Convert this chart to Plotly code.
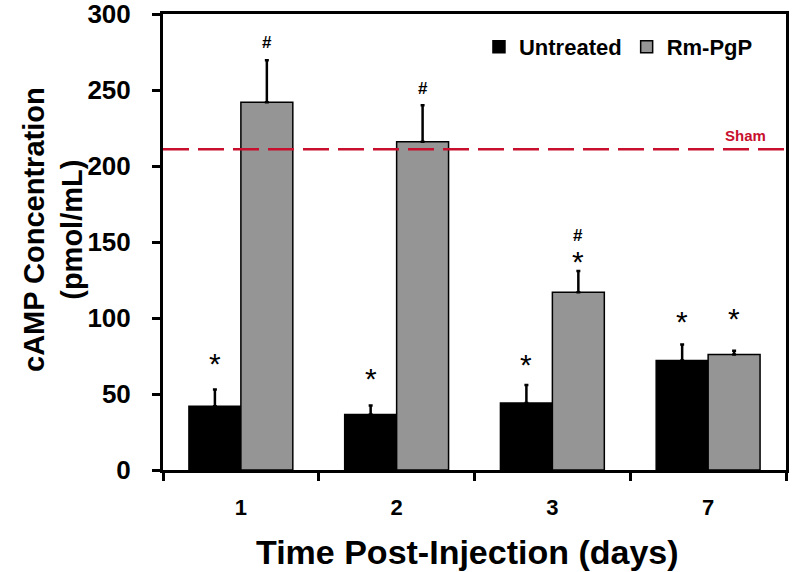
import plotly.graph_objects as go

days = ["1", "2", "3", "7"]
untreated = [42, 36.5, 44, 72]
untreated_err = [11, 6, 12, 10.5]
rmpgp = [242, 216, 117, 76]
rmpgp_err = [27.5, 24, 14, 2.5]
sham = 211
# significance marks: (category index, text, y value)
untreated_marks = [(0, "*", 75), (1, "*", 65), (2, "*", 74), (3, "*", 102)]
rmpgp_marks = [(0, "#", 281), (1, "#", 251), (2, "#", 154), (2, "*", 142), (3, "*", 104)]

FONT = "Arial, Liberation Sans, sans-serif"

fig = go.Figure()
fig.add_trace(go.Bar(
    x=days, y=untreated, name="Untreated",
    marker=dict(color="#000000", line=dict(color="#000000", width=1.5)),
    error_y=dict(type="data", array=untreated_err, arrayminus=[0]*4, symmetric=False,
                 color="#000000", thickness=2.5, width=2),
))
fig.add_trace(go.Bar(
    x=days, y=rmpgp, name="Rm-PgP",
    marker=dict(color="#959595", line=dict(color="#000000", width=1.5)),
    error_y=dict(type="data", array=rmpgp_err, arrayminus=[0]*4, symmetric=False,
                 color="#000000", thickness=2.5, width=2),
))

fig.add_shape(type="line", xref="paper", x0=0, x1=1, yref="y", y0=sham, y1=sham,
              line=dict(color="#C8102E", width=2.5, dash="26px,9px"))
fig.add_annotation(xref="paper", x=(745 - 163) / 623, xanchor="center", yref="y", y=sham,
                   yanchor="bottom", yshift=3, text="Sham", showarrow=False,
                   font=dict(family=FONT, size=15, color="#C8102E", weight="bold"))

def mark(idx, t, yv, shift):
    size = 17 if t == "#" else 30
    ysh = 0 if t == "#" else -7
    fig.add_annotation(x=idx, y=yv, text=t, showarrow=False, xshift=shift, yshift=ysh,
                       yanchor="middle",
                       font=dict(family=FONT, size=size, color="#000",
                                 weight="bold" if t == "#" else "normal"))

for idx, t, yv in untreated_marks:
    mark(idx, t, yv, -26)
for idx, t, yv in rmpgp_marks:
    mark(idx, t, yv, 26)

# axis titles
fig.add_annotation(xref="paper", yref="paper", x=(467 - 163) / 623, y=-(552 - 470) / 456,
                   text="Time Post-Injection (days)", showarrow=False, yanchor="middle",
                   xanchor="center",
                   font=dict(family=FONT, size=34, color="#000", weight="bold"))
fig.add_annotation(xref="paper", yref="paper", x=-(163 - 53) / 623, y=(470 - 230) / 456,
                   text="cAMP Concentration<br>(pmol/mL)", showarrow=False, textangle=-90,
                   xanchor="center", yanchor="middle",
                   font=dict(family=FONT, size=29, color="#000", weight="bold"))

fig.update_layout(
    width=792, height=572,
    margin=dict(l=163, r=6, t=14, b=102),
    paper_bgcolor="white", plot_bgcolor="white",
    barmode="group", bargap=0.333, bargroupgap=0,
    font=dict(family=FONT, color="#000"),
    showlegend=True,
    legend=dict(orientation="h", x=0.955, xanchor="right", y=(470 - 47) / 456, yanchor="middle",
                font=dict(family=FONT, size=22, color="#000", weight="bold"),
                bgcolor="rgba(0,0,0,0)", traceorder="normal", itemwidth=30),
    xaxis=dict(
        type="category", range=[-0.5, 3.5], tickson="boundaries", ticks="outside",
        ticklen=8, tickwidth=2.5, automargin=False,
        tickcolor="#000", showline=True, linecolor="#000", linewidth=3, mirror=True,
        showgrid=False, zeroline=False, ticklabelstandoff=16,
        tickfont=dict(family=FONT, size=22, weight="bold"),
    ),
    yaxis=dict(
        range=[0, 300], dtick=50, ticks="outside", ticklen=8, tickwidth=2.5,
        automargin=False, ticklabeloverflow="allow",
        tickcolor="#000", showline=True, linecolor="#000", linewidth=3, mirror=True,
        showgrid=False, zeroline=False, ticklabelstandoff=16,
        tickfont=dict(family=FONT, size=26, weight="bold"),
    ),
)

fig.write_html("out.html", config={"displayModeBar": False},
               post_script="document.body.style.margin='0';")
